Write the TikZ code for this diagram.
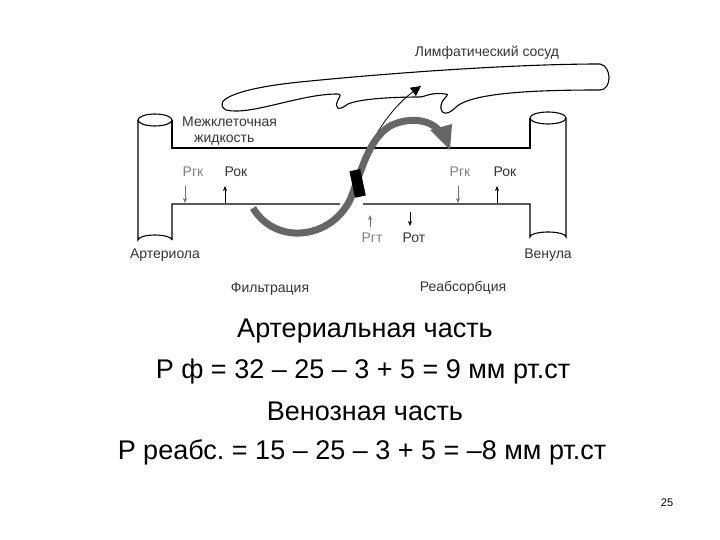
\documentclass[tikz,border=0pt]{standalone}
\usepackage{fontspec}
\setmainfont{Liberation Sans}
\usetikzlibrary{arrows.meta}
\frenchspacing
\begin{document}
\begin{tikzpicture}[x=1pt,y=-1pt,
  lbl/.style={font=\fontsize{14}{16}\selectfont, text=black!80},
  glbl/.style={font=\fontsize{14}{16}\selectfont, text=black!50},
  big/.style={font=\fontsize{27}{30}\selectfont},
  vessel/.style={line width=1.1pt},
  small/.style={-{Stealth[length=5pt,width=4pt]}, line width=0.6pt}]
\useasboundingbox (0,0) rectangle (720,540);
% cylinders and capillary
\draw[vessel] (138,120) -- (138,240) arc[start angle=180,end angle=360,x radius=17,y radius=5] (172,240)
  -- (172,204) -- (340,204);
\draw[vessel] (363,204) -- (530,204) -- (530,237) arc[start angle=180,end angle=360,x radius=18,y radius=5] -- (566,118);
\draw[vessel] (172,120) -- (172,148) -- (530,148) -- (530,118);
\draw[vessel] (155,120) ellipse[x radius=17,y radius=6];
\draw[vessel] (548,118) ellipse[x radius=18,y radius=6];
% lymphatic vessel
\draw[vessel] (226,110) .. controls (210,100) and (240,88) .. (300,82)
  .. controls (400,72) and (520,64) .. (600,64)
  .. controls (612,66) and (612,90) .. (600,90)
  .. controls (540,90) and (470,92) .. (455,108)
  .. controls (445,118) and (438,112) .. (442,102)
  .. controls (446,96) and (450,94) .. (445,94)
  .. controls (430,92) and (425,97) .. (420,97)
  .. controls (400,97) and (362,98) .. (348,104)
  .. controls (338,112) and (334,108) .. (338,100)
  .. controls (340,96) and (342,94) .. (337,94)
  .. controls (300,94) and (250,116) .. (226,110);
% thin arrow to lymph
\draw[line width=0.8pt,-{Triangle[length=10pt,width=10pt]}] (360,168) .. controls (375,130) and (395,105) .. (421,86);
% big curved arrow
\draw[line width=7pt, black!60] (253,208) .. controls (275,245) and (330,240) .. (350,200)
  .. controls (362,170) and (368,140) .. (390,126) .. controls (410,116) and (432,120) .. (440,132);
\fill[black!60] (430,130) -- (452,124) -- (450,150) -- cycle;
\fill[black, rotate around={12:(357,183)}] (352,170) rectangle (363,197);
% small arrows
\draw[small, black!55] (185,186) -- (185,203);
\draw[small] (225,203) -- (225,186);
\draw[small, black!55] (458,186) -- (458,203);
\draw[small] (497,203) -- (497,186);
\draw[small, black!55] (370,227) -- (370,215);
\draw[small] (410,212) -- (410,226);
% labels
\node[lbl] (lym) at (487,53) {Лимфатический сосуд};
\node[lbl, align=left, anchor=west, inner sep=0pt] (mz) at (182,131) {Межклеточная\\\hspace*{12pt}жидкость};
\node[glbl] (pg1) at (193,172) {Ргк};
\node[lbl] (po1) at (236,172) {Рок};
\node[glbl] (pg2) at (460,172) {Ргк};
\node[lbl] (po2) at (505,172) {Рок};
\node[glbl] (pgt) at (372,238) {Ргт};
\node[lbl] (pot) at (414,238) {Рот};
\node[lbl] (art) at (165,255) {Артериола};
\node[lbl] (ven) at (548,255) {Венула};
\node[lbl] (fil) at (270,289) {Фильтрация};
\node[lbl] (reab) at (463,288) {Реабсорбция};
\node[big] (t1) at (365,331) {Артериальная часть};
\node[big] (t2) at (363,372) {Р ф = 32 – 25 – 3 + 5 = 9 мм рт.ст};
\node[big] (t3) at (365,411) {Венозная часть};
\node[big] (t4) at (362,452) {Р реабс. = 15 – 25 – 3 + 5 = –8 мм рт.ст};
\node[font=\fontsize{11}{12}\selectfont] (pn) at (667,503) {25};
\end{tikzpicture}
\end{document}
